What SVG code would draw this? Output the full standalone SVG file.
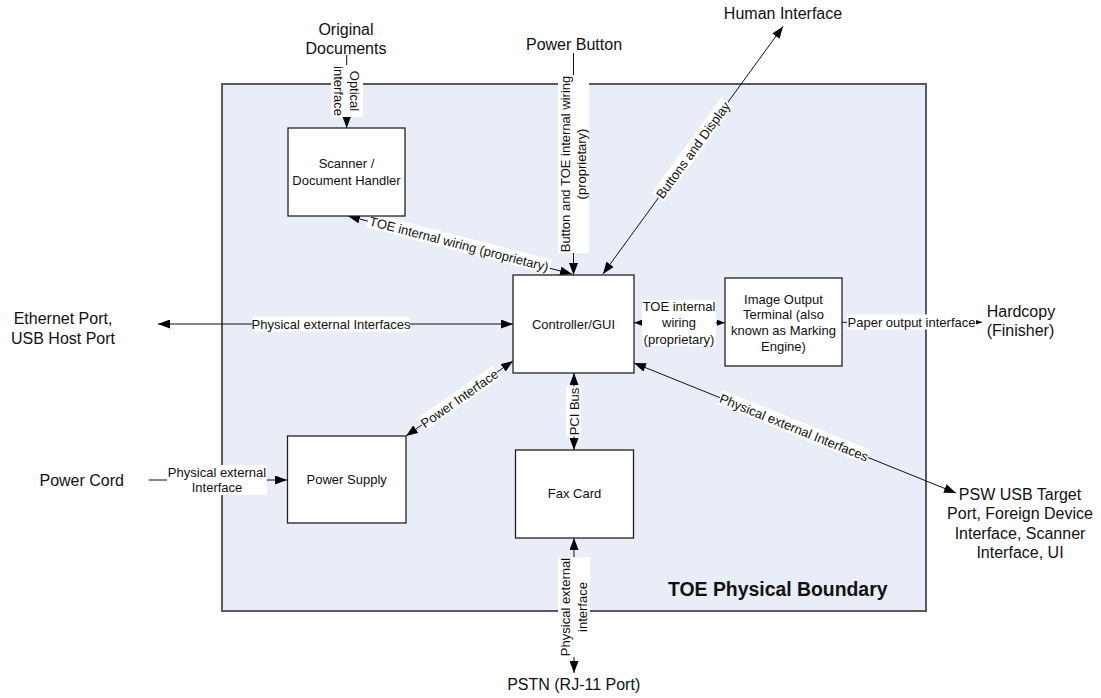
<svg xmlns="http://www.w3.org/2000/svg" width="1101" height="698" viewBox="0 0 1101 698">
<defs>
<style>
text{font-family:"Liberation Sans",Arial,sans-serif;fill:#111}
.ext{font-size:16px;text-anchor:middle}
.nd{font-size:13px;text-anchor:middle}
.lb{font-size:13px;text-anchor:middle}
.box{fill:#fff;stroke:#222;stroke-width:1.3}
.ln{stroke:#111;stroke-width:1;fill:none}
.bg{fill:#fff}
.a2{marker-start:url(#arr);marker-end:url(#arr)}
.a1{marker-end:url(#arr)}
.s2{marker-start:url(#sarr);marker-end:url(#sarr)}
.s1{marker-end:url(#sarr)}
</style>
<marker id="arr" viewBox="0 0 12 9" refX="12" refY="4.5" markerWidth="12" markerHeight="9" markerUnits="userSpaceOnUse" orient="auto-start-reverse"><path d="M0,0 L12,4.5 L0,9 z" fill="#000"/></marker>
<marker id="sarr" viewBox="0 0 8 6" refX="8" refY="3" markerWidth="8" markerHeight="6" markerUnits="userSpaceOnUse" orient="auto-start-reverse"><path d="M0,0 L8,3 L0,6 z" fill="#000"/></marker>
</defs>
<rect width="1101" height="698" fill="#fff"/>
<g id="boundary">
<rect x="222" y="84" width="704" height="527" fill="#e8edf7" stroke="#5a5a5a" stroke-width="2"/>
<text x="668" y="596" style="font-size:19.4px;font-weight:bold">TOE Physical Boundary</text>
</g>
<g id="connectors">
<path class="ln a1" d="M346.7,55 L346.7,128"/>
<path class="ln a1" d="M573.5,53 L573.5,275"/>
<path class="ln a2" d="M603,274 L783,26.5"/>
<path class="ln a2" d="M348,216 L572,274"/>
<path class="ln a2" d="M158,324 L513,324"/>
<path class="ln s2" d="M634,322.7 L725,322.7"/>
<path class="ln s1" d="M842,322.3 L982,322.3"/>
<path class="ln a2" d="M406,436 L513,361"/>
<path class="ln a2" d="M574,373 L574,450"/>
<path class="ln a2" d="M634,363 L956,493"/>
<path class="ln a1" d="M148.7,480 L287,480"/>
<path class="ln a2" d="M574,538 L574,673"/>
<g transform="translate(347,91) rotate(90)"><rect class="bg" x="-26" y="-16" width="52" height="32"/><text class="lb" x="0" y="-3.4">Optical</text><text class="lb" x="0" y="12.6">interface</text></g>
<g transform="translate(573.5,164) rotate(-90)"><rect class="bg" x="-89" y="-15.5" width="178" height="31"/><text class="lb" x="0" y="-3.9">Button and TOE internal wiring</text><text class="lb" x="0" y="12.6">(proprietary)</text></g>
<g transform="translate(693,150) rotate(-54)"><rect class="bg" x="-59" y="-8" width="118" height="15"/><text class="lb" x="0" y="4.6">Buttons and Display</text></g>
<g transform="translate(459,244) rotate(14.5)"><rect class="bg" x="-94" y="-8" width="188" height="15"/><text class="lb" x="0" y="4.6">TOE internal wiring (proprietary)</text></g>
<g><rect class="bg" x="252.5" y="316.5" width="157" height="15"/><text class="lb" x="331" y="328.6">Physical external Interfaces</text></g>
<g><rect class="bg" x="642" y="300" width="74" height="46"/><text class="lb" x="679" y="311.3">TOE internal</text><text class="lb" x="679" y="327.3">wiring</text><text class="lb" x="679" y="343.6">(proprietary)</text></g>
<g><rect class="bg" x="847" y="314.5" width="129" height="15"/><text class="lb" x="911.5" y="327">Paper output interface</text></g>
<g transform="translate(459.5,398.5) rotate(-35)"><rect class="bg" x="-46" y="-8" width="92" height="15"/><text class="lb" x="0" y="4.6">Power Interface</text></g>
<g transform="translate(574,411.5) rotate(-90)"><rect class="bg" x="-25" y="-8" width="50" height="15"/><text class="lb" x="0" y="4.6">PCI Bus</text></g>
<g transform="translate(794,427.6) rotate(22)"><rect class="bg" x="-80" y="-8" width="160" height="15"/><text class="lb" x="0" y="4.6">Physical external Interfaces</text></g>
<g><rect class="bg" x="167" y="465" width="100" height="30"/><text class="lb" x="217" y="476.9">Physical external</text><text class="lb" x="217" y="492.3">Interface</text></g>
<g transform="translate(574,607) rotate(-90)"><rect class="bg" x="-50" y="-16" width="100" height="32"/><text class="lb" x="0" y="-3.7">Physical external</text><text class="lb" x="0" y="13.3">interface</text></g>
</g>
<g id="scanner"><rect class="box" x="288" y="128" width="117" height="88"/><text class="nd" x="346.5" y="167.9">Scanner /</text><text class="nd" x="346.5" y="184.6">Document Handler</text></g>
<g id="controller"><rect class="box" x="513" y="275" width="121" height="98"/><text class="nd" x="573.5" y="328.6">Controller/GUI</text></g>
<g id="iot"><rect class="box" x="725" y="278" width="117" height="88"/><text class="nd" x="783.5" y="303.6">Image Output</text><text class="nd" x="783.5" y="319.3">Terminal (also</text><text class="nd" x="783.5" y="335">known as Marking</text><text class="nd" x="783.5" y="350.7">Engine)</text></g>
<g id="power-supply"><rect class="box" x="287.5" y="436" width="118.5" height="87"/><text class="nd" x="346.7" y="484">Power Supply</text></g>
<g id="fax"><rect class="box" x="515.5" y="450" width="118" height="88"/><text class="nd" x="574.5" y="497.6">Fax Card</text></g>
<g id="original-documents"><text class="ext" x="346" y="35">Original</text><text class="ext" x="346" y="54.3">Documents</text></g>
<g id="power-button"><text class="ext" x="574" y="50">Power Button</text></g>
<g id="human-interface"><text class="ext" x="783" y="18.5">Human Interface</text></g>
<g id="ethernet"><text class="ext" x="63" y="323.5">Ethernet Port,</text><text class="ext" x="63" y="343.5">USB Host Port</text></g>
<g id="hardcopy"><text class="ext" x="986.7" y="316.5" style="text-anchor:start">Hardcopy</text><text class="ext" x="986.7" y="336.3" style="text-anchor:start">(Finisher)</text></g>
<g id="power-cord"><text class="ext" x="81.7" y="485.5">Power Cord</text></g>
<g id="psw"><text class="ext" x="1020" y="499.5">PSW USB Target</text><text class="ext" x="1020" y="519">Port, Foreign Device</text><text class="ext" x="1020" y="538.5">Interface, Scanner</text><text class="ext" x="1020" y="558">Interface, UI</text></g>
<g id="pstn"><text class="ext" x="573.7" y="690">PSTN (RJ-11 Port)</text></g>
</svg>
